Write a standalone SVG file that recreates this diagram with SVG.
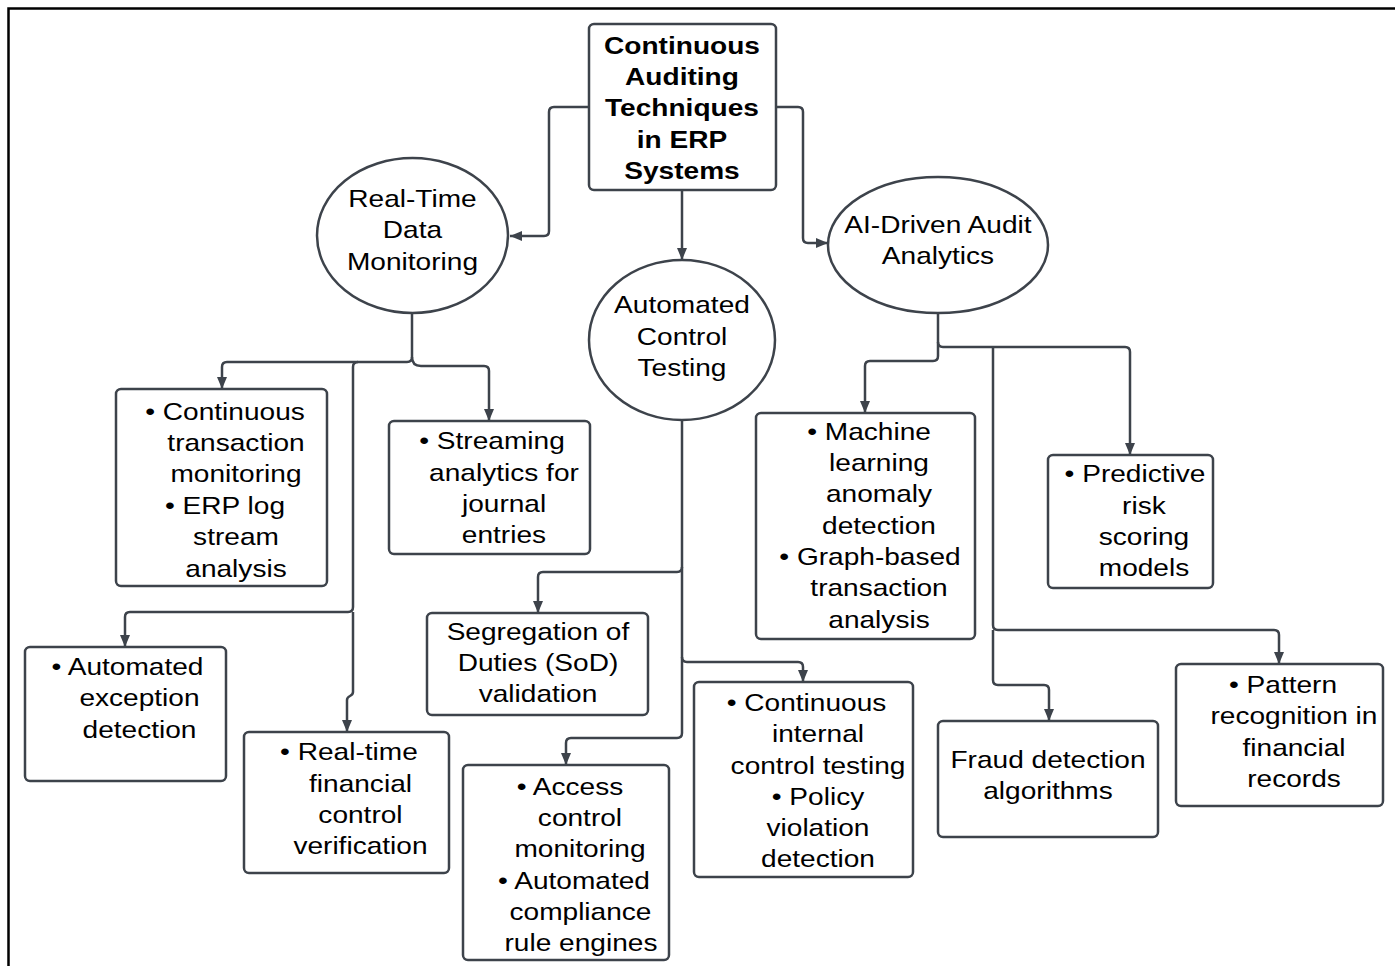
<svg xmlns="http://www.w3.org/2000/svg" width="1395" height="966" viewBox="0 0 1395 966">
<style>
.bg{fill:#ffffff}
.frame{fill:none;stroke:#000;stroke-width:2.5}
.box{fill:#fff;stroke:#3d434b;stroke-width:2.5}
.ell{fill:#fff;stroke:#3d434b;stroke-width:2.5}
.t{font-family:"Liberation Sans",Arial,sans-serif;font-size:24px;fill:#000;text-anchor:middle;transform-box:fill-box;transform-origin:center;transform:scaleX(1.17)}
.b{font-weight:bold}
.c{fill:none;stroke:#3d434b;stroke-width:2.5;stroke-linejoin:round}
</style>
<defs>
<marker id="arr" viewBox="0 0 12 10" refX="12" refY="5" markerWidth="12" markerHeight="10" markerUnits="userSpaceOnUse" orient="auto">
<path d="M0,0 L12,5 L0,10 z" fill="#3d434b"/>
</marker>
</defs>
<rect class="bg" x="0" y="0" width="1395" height="966"/>
<path class="frame" d="M8.5,966 V8.5 H1395"/>

<g id="connectors">
<path class="c" d="M589,107 H554 Q549,107 549,112 V231 Q549,236 544,236 H510" marker-end="url(#arr)"/>
<path class="c" d="M776,107 H798 Q803,107 803,112 V238 Q803,243 808,243 H828" marker-end="url(#arr)"/>
<path class="c" d="M682,190 V260" marker-end="url(#arr)"/>
<path class="c" d="M412,313 V357 Q412,362 407,362 H227 Q222,362 222,367 V389" marker-end="url(#arr)"/>
<path class="c" d="M358,362 Q353,362 353,367 V607 Q353,612 348,612 H130 Q125,612 125,617 V647" marker-end="url(#arr)"/>
<path class="c" d="M353,612 V692 C353,697 347,695 347,700 V732" marker-end="url(#arr)"/>
<path class="c" d="M412,357 Q412,366 421,366 H484 Q489,366 489,371 V421" marker-end="url(#arr)"/>
<path class="c" d="M682,420 V733 Q682,738 677,738 H571 Q566,738 566,743 V765" marker-end="url(#arr)"/>
<path class="c" d="M682,567 Q682,572 677,572 H543 Q538,572 538,577 V613" marker-end="url(#arr)"/>
<path class="c" d="M682,657 Q682,662 687,662 H798 Q803,662 803,667 V682" marker-end="url(#arr)"/>
<path class="c" d="M938,313 V356 Q938,361 933,361 H870 Q865,361 865,366 V413" marker-end="url(#arr)"/>
<path class="c" d="M938,342 Q938,347 943,347 H1125 Q1130,347 1130,352 V455" marker-end="url(#arr)"/>
<path class="c" d="M993,347 V625 Q993,630 998,630 H1274 Q1279,630 1279,635 V664" marker-end="url(#arr)"/>
<path class="c" d="M993,630 V680 Q993,685 998,685 H1044 Q1049,685 1049,690 V721" marker-end="url(#arr)"/>
</g>

<g id="root">
<rect class="box" x="589" y="24" width="187" height="166" rx="5"/>
<text class="t b" x="682" y="54">Continuous</text>
<text class="t b" x="682" y="85">Auditing</text>
<text class="t b" x="682" y="116">Techniques</text>
<text class="t b" x="682" y="148">in ERP</text>
<text class="t b" x="682" y="179">Systems</text>
</g>

<g id="realtime">
<ellipse class="ell" cx="412.5" cy="235.5" rx="95.5" ry="77.5"/>
<text class="t" x="412.5" y="207">Real-Time</text>
<text class="t" x="412.5" y="238">Data</text>
<text class="t" x="412.5" y="270">Monitoring</text>
</g>

<g id="act">
<ellipse class="ell" cx="682" cy="340" rx="93" ry="80"/>
<text class="t" x="682" y="313">Automated</text>
<text class="t" x="682" y="345">Control</text>
<text class="t" x="682" y="376">Testing</text>
</g>

<g id="ai">
<ellipse class="ell" cx="938" cy="245" rx="110" ry="68"/>
<text class="t" x="938" y="233">AI-Driven Audit</text>
<text class="t" x="938" y="264">Analytics</text>
</g>

<g id="ctm">
<rect class="box" x="116" y="389" width="211" height="197" rx="5"/>
<text class="t" x="225" y="420">• Continuous</text>
<text class="t" x="236" y="451">transaction</text>
<text class="t" x="236" y="482">monitoring</text>
<text class="t" x="225" y="514">• ERP log</text>
<text class="t" x="236" y="545">stream</text>
<text class="t" x="236" y="577">analysis</text>
</g>

<g id="streaming">
<rect class="box" x="389" y="421" width="201" height="133" rx="5"/>
<text class="t" x="492" y="449">• Streaming</text>
<text class="t" x="504" y="481">analytics for</text>
<text class="t" x="504" y="512">journal</text>
<text class="t" x="504" y="543">entries</text>
</g>

<g id="exception">
<rect class="box" x="25" y="647" width="201" height="134" rx="5"/>
<text class="t" x="127.5" y="675">• Automated</text>
<text class="t" x="139.5" y="706">exception</text>
<text class="t" x="139.5" y="738">detection</text>
</g>

<g id="realtimefin">
<rect class="box" x="244" y="732" width="205" height="141" rx="5"/>
<text class="t" x="349" y="760">• Real-time</text>
<text class="t" x="360.5" y="792">financial</text>
<text class="t" x="360.5" y="823">control</text>
<text class="t" x="360.5" y="854">verification</text>
</g>

<g id="sod">
<rect class="box" x="427" y="613" width="221" height="102" rx="5"/>
<text class="t" x="538" y="640">Segregation of</text>
<text class="t" x="538" y="671">Duties (SoD)</text>
<text class="t" x="538" y="702">validation</text>
</g>

<g id="access">
<rect class="box" x="463" y="765" width="206" height="195" rx="5"/>
<text class="t" x="570" y="795">• Access</text>
<text class="t" x="580" y="826">control</text>
<text class="t" x="580" y="857">monitoring</text>
<text class="t" x="574" y="889">• Automated</text>
<text class="t" x="580.5" y="920">compliance</text>
<text class="t" x="581" y="951">rule engines</text>
</g>

<g id="cict">
<rect class="box" x="694" y="682" width="219" height="195" rx="5"/>
<text class="t" x="806.5" y="711">• Continuous</text>
<text class="t" x="818" y="742">internal</text>
<text class="t" x="818" y="774">control testing</text>
<text class="t" x="818" y="805">• Policy</text>
<text class="t" x="818" y="836">violation</text>
<text class="t" x="818" y="867">detection</text>
</g>

<g id="ml">
<rect class="box" x="756" y="413" width="219" height="226" rx="5"/>
<text class="t" x="869" y="440">• Machine</text>
<text class="t" x="879" y="471">learning</text>
<text class="t" x="879" y="502">anomaly</text>
<text class="t" x="879" y="534">detection</text>
<text class="t" x="870" y="565">• Graph-based</text>
<text class="t" x="879" y="596">transaction</text>
<text class="t" x="879" y="628">analysis</text>
</g>

<g id="predictive">
<rect class="box" x="1048" y="455" width="165" height="133" rx="5"/>
<text class="t" x="1135" y="482">• Predictive</text>
<text class="t" x="1144" y="514">risk</text>
<text class="t" x="1144" y="545">scoring</text>
<text class="t" x="1144" y="576">models</text>
</g>

<g id="fraud">
<rect class="box" x="938" y="721" width="220" height="116" rx="5"/>
<text class="t" x="1048" y="768">Fraud detection</text>
<text class="t" x="1048" y="799">algorithms</text>
</g>

<g id="pattern">
<rect class="box" x="1176" y="664" width="207" height="142" rx="5"/>
<text class="t" x="1283" y="693">• Pattern</text>
<text class="t" x="1294" y="724">recognition in</text>
<text class="t" x="1294" y="756">financial</text>
<text class="t" x="1294" y="787">records</text>
</g>
</svg>
